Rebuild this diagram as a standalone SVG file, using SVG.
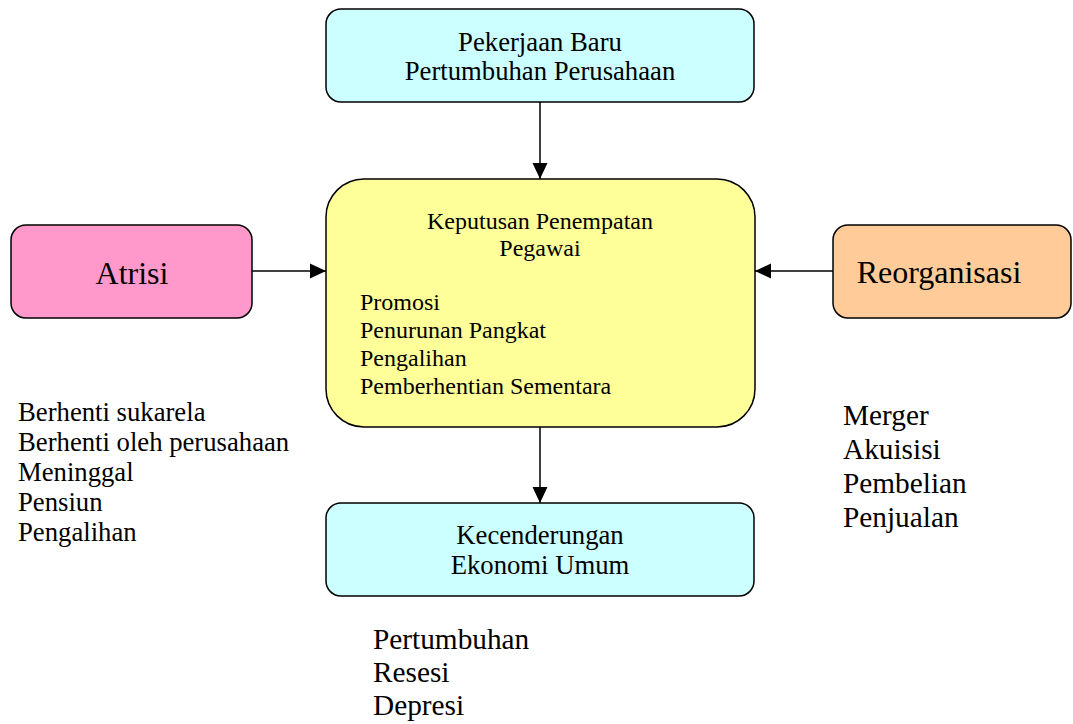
<svg xmlns="http://www.w3.org/2000/svg" width="1073" height="724" viewBox="0 0 1073 724">
<style>
.box{stroke:#000;stroke-width:1.5}
.t{font-family:"Liberation Serif","Times New Roman",serif;fill:#000}
.c{text-anchor:middle}
.edge{stroke:#000;stroke-width:1.5;fill:none;marker-end:url(#arr)}
</style>
<defs>
<marker id="arr" markerUnits="userSpaceOnUse" markerWidth="16" markerHeight="16" viewBox="0 0 15 14" refX="15" refY="7" orient="auto">
<path d="M0,0 L15,7 L0,14 Z" fill="#000"/>
</marker>
</defs>
<rect width="1073" height="724" fill="#fff"/>
<g id="connectors">
<path class="edge" d="M540,102 L540,179"/>
<path class="edge" d="M540,427 L540,503"/>
<path class="edge" d="M248,271 L326,271"/>
<path class="edge" d="M833,271 L755,271"/>
</g>
<g id="pekerjaan">
<rect class="box" x="326" y="9" width="428" height="93" rx="15" fill="#ccffff"/>
<text class="t c" x="540" y="51" font-size="26.7">Pekerjaan Baru</text>
<text class="t c" x="540" y="80" font-size="26.7">Pertumbuhan Perusahaan</text>
</g>
<g id="keputusan">
<rect class="box" x="326" y="179" width="429" height="248" rx="38" fill="#ffff99"/>
<text class="t c" x="540" y="229" font-size="24">Keputusan Penempatan</text>
<text class="t c" x="540" y="256" font-size="24">Pegawai</text>
<text class="t" x="360" y="310" font-size="24">Promosi</text>
<text class="t" x="360" y="338" font-size="24">Penurunan Pangkat</text>
<text class="t" x="360" y="366" font-size="24">Pengalihan</text>
<text class="t" x="360" y="394" font-size="24">Pemberhentian Sementara</text>
</g>
<g id="atrisi">
<rect class="box" x="11" y="225" width="241" height="93" rx="15" fill="#ff99cc"/>
<text class="t c" x="132" y="284" font-size="32">Atrisi</text>
</g>
<g id="reorganisasi">
<rect class="box" x="833" y="225" width="238" height="93" rx="15" fill="#ffcc99"/>
<text class="t c" x="939" y="283" font-size="32">Reorganisasi</text>
</g>
<g id="kecenderungan">
<rect class="box" x="326" y="503" width="428" height="93" rx="15" fill="#ccffff"/>
<text class="t c" x="540" y="544" font-size="26.7">Kecenderungan</text>
<text class="t c" x="540" y="574" font-size="26.7">Ekonomi Umum</text>
</g>
<g id="atrisi-list">
<text class="t" x="18" y="421" font-size="26.7">Berhenti sukarela</text>
<text class="t" x="18" y="451" font-size="26.7">Berhenti oleh perusahaan</text>
<text class="t" x="18" y="481" font-size="26.7">Meninggal</text>
<text class="t" x="18" y="511" font-size="26.7">Pensiun</text>
<text class="t" x="18" y="541" font-size="26.7">Pengalihan</text>
</g>
<g id="reorganisasi-list">
<text class="t" x="843" y="425" font-size="29.3">Merger</text>
<text class="t" x="843" y="459" font-size="29.3">Akuisisi</text>
<text class="t" x="843" y="493" font-size="29.3">Pembelian</text>
<text class="t" x="843" y="527" font-size="29.3">Penjualan</text>
</g>
<g id="ekonomi-list">
<text class="t" x="373" y="649" font-size="29.3">Pertumbuhan</text>
<text class="t" x="373" y="682" font-size="29.3">Resesi</text>
<text class="t" x="373" y="715" font-size="29.3">Depresi</text>
</g>
</svg>
